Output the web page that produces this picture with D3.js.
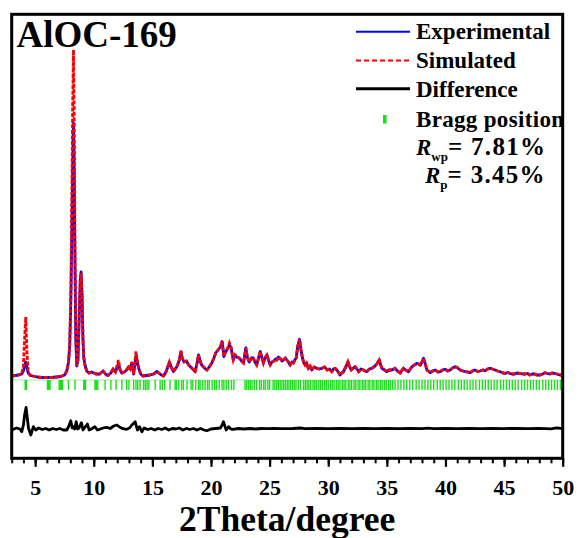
<!DOCTYPE html>
<html>
<head>
<meta charset="utf-8">
<script src="https://cdn.jsdelivr.net/npm/d3@7"></script>
<style>
  body { margin: 0; background: white; }
  svg { display: block; }
  text { font-family: "Times New Roman", "Liberation Serif", serif; font-weight: bold; }
</style>
</head>
<body>
<script>
// 1. DATA ------------------------------------------------------------------------------

const twoTheta = [
  3.0, 3.3, 3.6, 3.85, 4.0, 4.1, 4.2, 4.3, 4.4, 4.6,
  4.8, 5.2, 5.6, 6.0, 6.4, 6.8, 7.2, 7.5, 7.7, 7.85,
  7.95, 8.05, 8.12, 8.2, 8.27, 8.33, 8.4, 8.47, 8.55, 8.65,
  8.75, 8.85, 8.92, 9.0, 9.08, 9.15, 9.25, 9.4, 9.6, 9.8,
  10.0, 10.2, 10.5, 10.8, 11.0, 11.2, 11.45, 11.65, 11.85, 12.1,
  12.25, 12.4, 12.6, 12.8, 12.96, 13.1, 13.25, 13.4, 13.6, 13.8,
  14.0, 14.2, 14.5, 14.8, 15.1, 15.4, 15.7, 15.95, 16.2, 16.45,
  16.6, 16.8, 17.1, 17.3, 17.43, 17.55, 17.7, 17.9, 18.1, 18.35,
  18.65, 18.8, 18.93, 19.05, 19.2, 19.45, 19.65, 19.85, 20.07, 20.25,
  20.4, 20.6, 20.8, 20.95, 21.1, 21.25, 21.4, 21.57, 21.7, 21.9,
  22.05, 22.2, 22.4, 22.6, 22.77, 22.97, 23.1, 23.26, 23.45, 23.6,
  23.75, 23.9, 24.05, 24.2, 24.35, 24.47, 24.6, 24.77, 24.9, 25.05,
  25.2, 25.33, 25.5, 25.62, 25.75, 25.9, 26.05, 26.18, 26.35, 26.47,
  26.6, 26.75, 26.9, 27.03, 27.15, 27.27, 27.4, 27.55, 27.68, 27.8,
  27.9, 28.03, 28.15, 28.3, 28.45, 28.6, 28.8, 29.03, 29.25, 29.46,
  29.7, 29.9, 30.1, 30.3, 30.45, 30.6, 30.8, 31.0, 31.15, 31.3,
  31.5, 31.68, 31.8, 31.96, 32.15, 32.3, 32.45, 32.6, 32.8, 33.0,
  33.15, 33.3, 33.5, 33.72, 33.9, 34.07, 34.2, 34.35, 34.48, 34.58,
  34.8, 35.0, 35.2, 35.43, 35.7, 35.9, 36.14, 36.3, 36.42, 36.6,
  36.85, 37.0, 37.14, 37.35, 37.56, 37.7, 37.85, 38.0, 38.13, 38.28,
  38.42, 38.7, 38.9, 39.13, 39.35, 39.55, 39.75, 39.98, 40.2, 40.4,
  40.6, 40.84, 41.05, 41.26, 41.5, 41.69, 41.9, 42.1, 42.3, 42.5,
  42.75, 42.96, 43.2, 43.4, 43.6, 43.8, 44.0, 44.24, 44.45, 44.67,
  44.9, 45.1, 45.3, 45.5, 45.7, 45.9, 46.1, 46.35, 46.6, 46.8,
  47.0, 47.2, 47.4, 47.6, 47.8, 48.05, 48.3, 48.5, 48.7, 48.9,
  49.1, 49.3, 49.5, 49.76, 50.0
];

// experimental intensity (a.u.)
const iObs = [
  10, 15, 20, 30, 60, 110, 150, 100, 40, 15,
  10, 0, -5, -5, -5, 0, 5, 20, 60, 150,
  320, 770, 1370, 2070, 2540, 2070, 1070, 370, 110, 170,
  570, 970, 1050, 820, 370, 190, 120, 60, 40, 50,
  40, 30, 30, 60, 30, 15, 40, 80, 50, 130,
  70, 40, 50, 70, 100, 80, 140, 30, 210, 100,
  30, 10, 15, 20, 30, 55, 25, 10, 60, 150,
  100, 55, 105, 170, 250, 190, 150, 160, 120, 90,
  55, 130, 220, 170, 120, 90, 70, 100, 140, 190,
  240, 270, 300, 355, 205, 250, 280, 320, 300, 170,
  220, 200, 190, 160, 140, 290, 200, 150, 190, 190,
  150, 120, 190, 255, 190, 140, 190, 220, 170, 120,
  150, 155, 180, 170, 200, 185, 160, 170, 190, 170,
  150, 120, 150, 140, 170, 190, 310, 377, 270, 190,
  150, 120, 140, 87, 110, 70, 100, 87, 80, 87,
  100, 70, 80, 53, 80, 87, 60, 20, 40, 53,
  100, 153, 110, 70, 90, 103, 80, 53, 80, 70,
  60, 53, 80, 87, 100, 120, 140, 170, 120, 87,
  70, 53, 70, 70, 87, 60, 40, 70, 87, 70,
  53, 80, 103, 120, 137, 130, 120, 150, 187, 130,
  70, 43, 60, 70, 50, 53, 70, 77, 60, 70,
  90, 103, 90, 70, 60, 53, 50, 43, 60, 70,
  55, 60, 70, 63, 80, 87, 80, 70, 60, 53,
  40, 37, 45, 37, 30, 30, 40, 37, 30, 30,
  35, 20, 30, 30, 20, 20, 30, 43, 35, 30,
  40, 37, 30, 20, 20
];

// simulated intensity (a.u.)
const iCalc = [
  10, 15, 20, 30, 110, 380, 600, 250, 50, 15,
  10, 0, -5, -5, -5, 0, 5, 20, 60, 150,
  330, 900, 1700, 2700, 3270, 2600, 1300, 400, 110, 170,
  570, 970, 1040, 820, 370, 190, 120, 60, 40, 50,
  40, 30, 30, 60, 30, 15, 40, 80, 50, 170,
  70, 40, 50, 70, 100, 80, 150, 30, 255, 100,
  30, 10, 15, 20, 30, 55, 25, 10, 60, 150,
  100, 55, 105, 170, 265, 190, 150, 160, 120, 90,
  55, 130, 220, 170, 120, 90, 70, 100, 140, 190,
  240, 270, 300, 355, 205, 250, 280, 340, 300, 170,
  220, 200, 190, 160, 140, 290, 200, 150, 190, 190,
  150, 120, 190, 255, 190, 140, 190, 220, 170, 120,
  150, 155, 180, 170, 200, 185, 160, 170, 190, 170,
  150, 120, 150, 140, 170, 190, 310, 375, 270, 190,
  150, 120, 140, 87, 110, 70, 100, 87, 80, 87,
  100, 70, 80, 53, 80, 87, 60, 20, 40, 53,
  100, 153, 110, 70, 90, 103, 80, 53, 80, 70,
  60, 53, 80, 87, 100, 120, 140, 170, 120, 87,
  70, 53, 70, 70, 87, 60, 40, 70, 87, 70,
  53, 80, 103, 120, 137, 130, 120, 150, 187, 130,
  70, 43, 60, 70, 50, 53, 70, 77, 60, 70,
  90, 103, 90, 70, 60, 53, 50, 43, 60, 70,
  55, 60, 70, 63, 80, 87, 80, 70, 60, 53,
  40, 37, 45, 37, 30, 30, 40, 37, 30, 30,
  35, 20, 30, 30, 20, 20, 30, 43, 35, 30,
  40, 37, 30, 20, 20
];

// difference curve (already offset below the pattern)
const diffTheta = [
  3.0, 3.4, 3.7, 3.86, 4.0, 4.1, 4.23, 4.33, 4.43, 4.63,
  4.85, 5.05, 5.3, 5.6, 5.9, 6.2, 6.5, 6.8, 7.1, 7.4,
  7.7, 7.88, 8.04, 8.16, 8.27, 8.38, 8.5, 8.62, 8.72, 8.95,
  9.08, 9.18, 9.46, 9.6, 9.75, 10.1, 10.3, 10.5, 10.8, 11.1,
  11.4, 11.7, 11.97, 12.2, 12.4, 12.8, 13.05, 13.25, 13.53, 13.65,
  13.73, 13.9, 14.1, 14.3, 14.6, 14.9, 15.2, 15.5, 15.8, 16.1,
  16.4, 16.7, 17.0, 17.3, 17.6, 17.9, 18.2, 18.5, 18.8, 19.1,
  19.4, 19.65, 20.0, 20.4, 20.8, 20.95, 21.06, 21.18, 21.3, 21.5,
  21.7, 21.9, 22.3, 22.8, 23.3, 23.8, 24.3, 24.8, 25.3, 26.0,
  27.0, 27.6, 28.0, 29.0, 30.0, 31.0, 32.0, 33.0, 34.0, 35.0,
  36.0, 37.0, 38.0, 38.5, 39.0, 40.0, 41.0, 42.0, 43.0, 44.0,
  45.0, 46.0, 47.0, 48.0, 49.0, 49.5, 50.0
];
const iDiff = [
  -530, -510, -520, -547, -480, -380, -303, -410, -510, -580,
  -497, -530, -510, -525, -515, -530, -515, -525, -515, -530,
  -530, -490, -437, -510, -497, -520, -447, -520, -513, -457,
  -530, -513, -470, -530, -523, -497, -530, -523, -510, -503,
  -515, -490, -480, -500, -513, -523, -510, -480, -447, -500,
  -530, -497, -547, -510, -525, -515, -530, -515, -525, -510,
  -530, -515, -520, -510, -530, -515, -525, -515, -530, -515,
  -530, -537, -520, -515, -510, -480, -447, -490, -530, -497,
  -520, -523, -515, -520, -515, -520, -515, -517, -515, -517,
  -515, -510, -517, -515, -517, -515, -517, -515, -516, -515,
  -517, -514, -517, -512, -516, -514, -516, -513, -517, -514,
  -516, -513, -517, -513, -518, -508, -517
];

// Bragg reflection positions (2theta)
const braggPositions = [
  4.15, 4.2, 4.25, 6.05, 6.12, 6.2, 6.27, 7.05, 7.15, 7.25, 7.33, 7.84, 8.4,
  9.15, 9.22, 9.3, 10.1, 10.18, 10.26, 10.34, 10.97, 11.46, 11.9, 12.4, 12.8, 13.0,
  13.4, 13.6, 13.75, 13.95, 14.25, 14.4, 14.55, 14.7, 15.24, 15.66, 15.85, 16.05,
  16.5, 16.94, 17.05, 17.25, 17.5, 17.65, 17.95, 18.3, 18.45, 18.7, 18.95, 19.07,
  19.3, 19.5, 19.7, 19.85, 20.1, 20.3, 20.45, 20.7, 20.95, 21.1, 21.3, 21.5, 21.75,
  21.95, 22.9, 23.05, 23.2, 23.35, 23.5, 23.7, 23.9, 24.15, 24.3, 24.5, 24.65, 24.85,
  25.0, 25.3, 25.45, 25.6, 25.75, 25.9, 26.05, 26.2, 26.35, 26.5, 26.65, 26.8, 26.95,
  27.1, 27.25, 27.45, 27.65, 27.9, 28.05, 28.2, 28.35, 28.5, 28.7, 28.85, 29.0, 29.2,
  29.35, 29.5, 29.7, 29.85, 30.0, 30.2, 30.35, 30.5, 30.7, 30.85, 31.0, 31.2, 31.35,
  31.5, 31.7, 31.85, 32.0, 32.2, 32.35, 32.55, 32.7, 32.9, 33.05, 33.2, 33.4, 33.55,
  33.75, 33.9, 34.1, 34.25, 34.45, 34.6, 34.8, 34.95, 35.15, 35.3, 35.5, 35.7, 35.95,
  36.2, 36.45, 36.7, 36.95, 37.2, 37.5, 37.75, 38.0, 38.25, 38.5, 38.75, 39.0, 39.3,
  39.55, 39.8, 40.05, 40.3, 40.55, 40.8, 41.1, 41.35, 41.6, 41.85, 42.1, 42.35, 42.6,
  42.9, 43.15, 43.4, 43.65, 43.9, 44.15, 44.4, 44.7, 44.95, 45.2, 45.45, 45.7, 45.95,
  46.2, 46.5, 46.75, 47.0, 47.25, 47.5, 47.75, 48.0, 48.3, 48.55, 48.8, 49.05, 49.3,
  49.55, 49.8
];

const xTickValues = [5, 10, 15, 20, 25, 30, 35, 40, 45, 50];
const legendLabels = ["Experimental", "Simulated", "Difference", "Bragg position"];
const rwp = "7.81%", rp = "3.45%";

// 2. LAYOUT -----------------------------------------------------------------------------

const width = 580,
      height = 538,
      plotLeft = 11.7,
      plotRight = 562.7,
      plotTop = 14.3,
      plotBottom = 458.3,
      braggTop = -30,     // intensity units
      braggBottom = -130;

const x = d3.scaleLinear().domain([3, 50]).range([plotLeft, plotRight]);
const y = d3.scaleLinear().domain([-813, 3627]).range([plotBottom, plotTop]);

const svg = d3.select("body")
  .append("svg")
  .attr("width", width)
  .attr("height", height);

// 3. DATA MARKS -------------------------------------------------------------------------

const pattern = twoTheta.map((t, i) => ({ t: t, obs: iObs[i], calc: iCalc[i] }));
const diffData = diffTheta.map((t, i) => ({ t: t, v: iDiff[i] }));

// bragg ticks
svg.append("line")
  .attr("x1", plotLeft + 1).attr("x2", plotRight - 1)
  .attr("y1", y(braggTop)).attr("y2", y(braggTop))
  .attr("stroke", "#9ef09e")
  .attr("stroke-width", 1);

svg.append("g")
  .selectAll("line")
  .data(braggPositions)
  .enter()
  .append("line")
  .attr("x1", d => x(d)).attr("x2", d => x(d))
  .attr("y1", y(braggTop)).attr("y2", y(braggBottom))
  .attr("stroke", "#19e019")
  .attr("stroke-width", 1.4);

const obsLine = d3.line().x(d => x(d.t)).y(d => y(d.obs));
const calcLine = d3.line().x(d => x(d.t)).y(d => y(d.calc));
const diffLine = d3.line().x(d => x(d.t)).y(d => y(d.v));

svg.append("path")
  .datum(pattern)
  .attr("d", obsLine)
  .attr("fill", "none")
  .attr("stroke", "#0000ff")
  .attr("stroke-width", 2.8)
  .attr("stroke-linejoin", "round");

svg.append("path")
  .datum(pattern)
  .attr("d", calcLine)
  .attr("fill", "none")
  .attr("stroke", "#ff0000")
  .attr("stroke-width", 2.8)
  .attr("stroke-dasharray", "4,1.6");

svg.append("path")
  .datum(diffData)
  .attr("d", diffLine)
  .attr("fill", "none")
  .attr("stroke", "#000")
  .attr("stroke-width", 2.8)
  .attr("stroke-linejoin", "round");

// 4. FRAME AND AXIS ---------------------------------------------------------------------

svg.append("rect")
  .attr("x", plotLeft).attr("y", plotTop)
  .attr("width", plotRight - plotLeft).attr("height", plotBottom - plotTop)
  .attr("fill", "none")
  .attr("stroke", "#000")
  .attr("stroke-width", 3);

const minorAxis = svg.append("g")
  .attr("transform", `translate(0,${plotBottom})`)
  .call(d3.axisBottom(x).tickValues(d3.range(3, 51)).tickSize(5).tickFormat(""));
minorAxis.select(".domain").remove();
minorAxis.selectAll("line").attr("stroke-width", 2);

const majorAxis = svg.append("g")
  .attr("transform", `translate(0,${plotBottom})`)
  .call(d3.axisBottom(x).tickValues(xTickValues).tickSize(8.5).tickPadding(12.5).tickFormat(d3.format("d")));
majorAxis.select(".domain").remove();
majorAxis.selectAll("line").attr("stroke-width", 2.2);
majorAxis.selectAll("text")
  .attr("fill", "#000")
  .style("font-size", "22px")
  .style("font-family", "'Times New Roman', 'Liberation Serif', serif")
  .style("font-weight", "bold");

svg.append("text")
  .attr("x", (plotLeft + plotRight) / 2)
  .attr("y", 530.5)
  .attr("text-anchor", "middle")
  .style("font-size", "35.5px")
  .text("2Theta/degree");

svg.append("text")
  .attr("x", 16.5)
  .attr("y", 47)
  .style("font-size", "37px")
  .text("AlOC-169");

// 5. LEGEND -----------------------------------------------------------------------------

const legendX = 416, rowY = [39.3, 68.3, 97.3, 126.7];

svg.append("line")
  .attr("x1", 356).attr("x2", 410).attr("y1", 31.7).attr("y2", 31.7)
  .attr("stroke", "#0000ff").attr("stroke-width", 2);
svg.append("line")
  .attr("x1", 356).attr("x2", 410).attr("y1", 60.5).attr("y2", 60.5)
  .attr("stroke", "#ff0000").attr("stroke-width", 2).attr("stroke-dasharray", "5,3");
svg.append("line")
  .attr("x1", 356).attr("x2", 410).attr("y1", 88.8).attr("y2", 88.8)
  .attr("stroke", "#000").attr("stroke-width", 3);
svg.append("rect")
  .attr("x", 383).attr("y", 115).attr("width", 3.6).attr("height", 8.5)
  .attr("fill", "#19e019");

svg.append("g")
  .selectAll("text")
  .data(legendLabels)
  .enter()
  .append("text")
  .attr("x", legendX)
  .attr("y", (d, i) => rowY[i])
  .style("font-size", "23px")
  .attr("textLength", (d, i) => i == 3 ? 148 : null)
  .text(d => d);

// R factors: italic R, subscript, then the value
const rText = (xPos, yPos, sub, value) => {
  const t = svg.append("text").attr("x", xPos).attr("y", yPos).style("font-size", "23px");
  t.append("tspan").style("font-style", "italic").text("R");
  t.append("tspan").attr("dy", 6).style("font-size", "13px").text(sub);
  t.append("tspan")
    .attr("dy", -6)
    .style("font-size", "25px")
    .style("letter-spacing", "1.3px")
    .text("= " + value);
};
rText(416, 155, "wp", rwp);
rText(425, 183.3, "p", rp);
</script>
</body>
</html>
